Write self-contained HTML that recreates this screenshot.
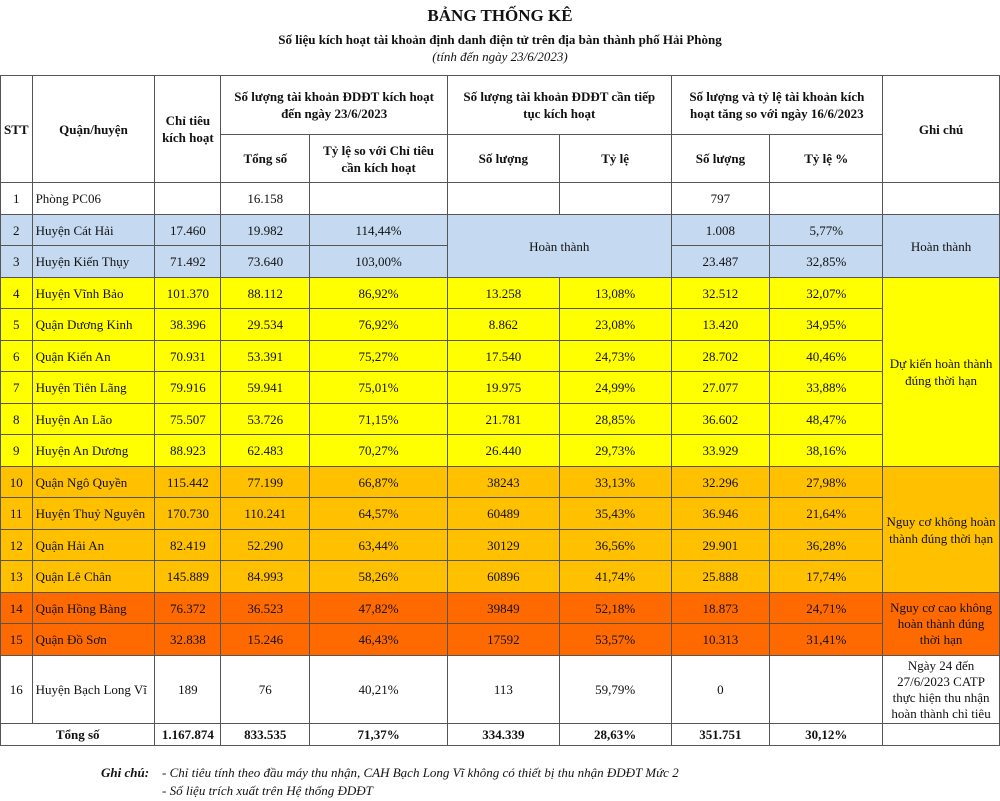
<!DOCTYPE html>
<html><head><meta charset="utf-8">
<style>
body{margin:0;width:1000px;height:801px;background:#fff;font-family:"Liberation Serif",serif;color:#111;position:relative;overflow:hidden}
.t{position:absolute;left:0;width:1000px;text-align:center}
table{position:absolute;left:0;top:75px;border-collapse:collapse;table-layout:fixed;font-size:13px}
td,th{border:1px solid #555;padding:0 3px;text-align:center;overflow:hidden;line-height:17px}
th{font-weight:bold}
th.g{padding:0 12px}
td.l{text-align:left}
td.n{line-height:16px}
.b{background:#c5d9f1}.y{background:#ffff00}.o{background:#ffc000}.r{background:#ff6a00}
tr.tot td{font-weight:bold}
.fn{position:absolute;font-size:13px;font-style:italic}
</style></head><body>
<div class="t" style="top:6px;font-size:17px;font-weight:bold">BẢNG THỐNG KÊ</div>
<div class="t" style="top:32px;font-size:13px;font-weight:bold">Số liệu kích hoạt tài khoản định danh điện tử trên địa bàn thành phố Hải Phòng</div>
<div class="t" style="top:49px;font-size:13px;font-style:italic">(tính đến ngày 23/6/2023)</div>
<table>
<colgroup><col style="width:31px"><col style="width:123px"><col style="width:66px"><col style="width:89px"><col style="width:138px"><col style="width:112px"><col style="width:112px"><col style="width:99px"><col style="width:113px"><col style="width:117px"></colgroup>
<tr style="height:59px">
<th rowspan="2">STT</th><th rowspan="2">Quận/huyện</th><th rowspan="2">Chỉ tiêu kích hoạt</th>
<th colspan="2" class="g">Số lượng tài khoản ĐDĐT kích hoạt đến ngày 23/6/2023</th>
<th colspan="2" class="g">Số lượng tài khoản ĐDĐT cần tiếp tục kích hoạt</th>
<th colspan="2" class="g">Số lượng và tỷ lệ tài khoản kích hoạt tăng so với ngày 16/6/2023</th>
<th rowspan="2">Ghi chú</th></tr>
<tr style="height:48px"><th>Tổng số</th><th class="g">Tỷ lệ so với Chỉ tiêu cần kích hoạt</th><th>Số lượng</th><th>Tỷ lệ</th><th>Số lượng</th><th>Tỷ lệ %</th></tr>
<tr style="height:32px"><td>1</td><td class="l">Phòng PC06</td><td></td><td>16.158</td><td></td><td></td><td></td><td>797</td><td></td><td></td></tr>
<tr style="height:31px" class="b"><td>2</td><td class="l">Huyện Cát Hải</td><td>17.460</td><td>19.982</td><td>114,44%</td><td colspan="2" rowspan="2">Hoàn thành</td><td>1.008</td><td>5,77%</td><td rowspan="2">Hoàn thành</td></tr>
<tr style="height:32px" class="b"><td>3</td><td class="l">Huyện Kiến Thụy</td><td>71.492</td><td>73.640</td><td>103,00%</td><td>23.487</td><td>32,85%</td></tr>
<tr style="height:31px" class="y"><td>4</td><td class="l">Huyện Vĩnh Bảo</td><td>101.370</td><td>88.112</td><td>86,92%</td><td>13.258</td><td>13,08%</td><td>32.512</td><td>32,07%</td><td rowspan="6">Dự kiến hoàn thành đúng thời hạn</td></tr>
<tr style="height:32px" class="y"><td>5</td><td class="l">Quận Dương Kinh</td><td>38.396</td><td>29.534</td><td>76,92%</td><td>8.862</td><td>23,08%</td><td>13.420</td><td>34,95%</td></tr>
<tr style="height:31px" class="y"><td>6</td><td class="l">Quận Kiến An</td><td>70.931</td><td>53.391</td><td>75,27%</td><td>17.540</td><td>24,73%</td><td>28.702</td><td>40,46%</td></tr>
<tr style="height:32px" class="y"><td>7</td><td class="l">Huyện Tiên Lãng</td><td>79.916</td><td>59.941</td><td>75,01%</td><td>19.975</td><td>24,99%</td><td>27.077</td><td>33,88%</td></tr>
<tr style="height:31px" class="y"><td>8</td><td class="l">Huyện An Lão</td><td>75.507</td><td>53.726</td><td>71,15%</td><td>21.781</td><td>28,85%</td><td>36.602</td><td>48,47%</td></tr>
<tr style="height:32px" class="y"><td>9</td><td class="l">Huyện An Dương</td><td>88.923</td><td>62.483</td><td>70,27%</td><td>26.440</td><td>29,73%</td><td>33.929</td><td>38,16%</td></tr>
<tr style="height:31px" class="o"><td>10</td><td class="l">Quận Ngô Quyền</td><td>115.442</td><td>77.199</td><td>66,87%</td><td>38243</td><td>33,13%</td><td>32.296</td><td>27,98%</td><td rowspan="4">Nguy cơ không hoàn thành đúng thời hạn</td></tr>
<tr style="height:32px" class="o"><td>11</td><td class="l">Huyện Thuỷ Nguyên</td><td>170.730</td><td>110.241</td><td>64,57%</td><td>60489</td><td>35,43%</td><td>36.946</td><td>21,64%</td></tr>
<tr style="height:31px" class="o"><td>12</td><td class="l">Quận Hải An</td><td>82.419</td><td>52.290</td><td>63,44%</td><td>30129</td><td>36,56%</td><td>29.901</td><td>36,28%</td></tr>
<tr style="height:32px" class="o"><td>13</td><td class="l">Quận Lê Chân</td><td>145.889</td><td>84.993</td><td>58,26%</td><td>60896</td><td>41,74%</td><td>25.888</td><td>17,74%</td></tr>
<tr style="height:31px" class="r"><td>14</td><td class="l">Quận Hồng Bàng</td><td>76.372</td><td>36.523</td><td>47,82%</td><td>39849</td><td>52,18%</td><td>18.873</td><td>24,71%</td><td rowspan="2" class="n">Nguy cơ cao không hoàn thành đúng thời hạn</td></tr>
<tr style="height:32px" class="r"><td>15</td><td class="l">Quận Đồ Sơn</td><td>32.838</td><td>15.246</td><td>46,43%</td><td>17592</td><td>53,57%</td><td>10.313</td><td>31,41%</td></tr>
<tr style="height:68px"><td>16</td><td class="l">Huyện Bạch Long Vĩ</td><td>189</td><td>76</td><td>40,21%</td><td>113</td><td>59,79%</td><td>0</td><td></td><td class="n">Ngày 24 đến 27/6/2023 CATP thực hiện thu nhận hoàn thành chỉ tiêu</td></tr>
<tr style="height:22px" class="tot"><td colspan="2">Tổng số</td><td>1.167.874</td><td>833.535</td><td>71,37%</td><td>334.339</td><td>28,63%</td><td>351.751</td><td>30,12%</td><td></td></tr>
</table>
<div class="fn" style="left:101px;top:765px;font-weight:bold">Ghi chú:</div>
<div class="fn" style="left:162px;top:765px">- Chỉ tiêu tính theo đầu máy thu nhận, CAH Bạch Long Vĩ không có thiết bị thu nhận ĐDĐT Mức 2</div>
<div class="fn" style="left:162px;top:783px">- Số liệu trích xuất trên Hệ thống ĐDĐT</div>
</body></html>
